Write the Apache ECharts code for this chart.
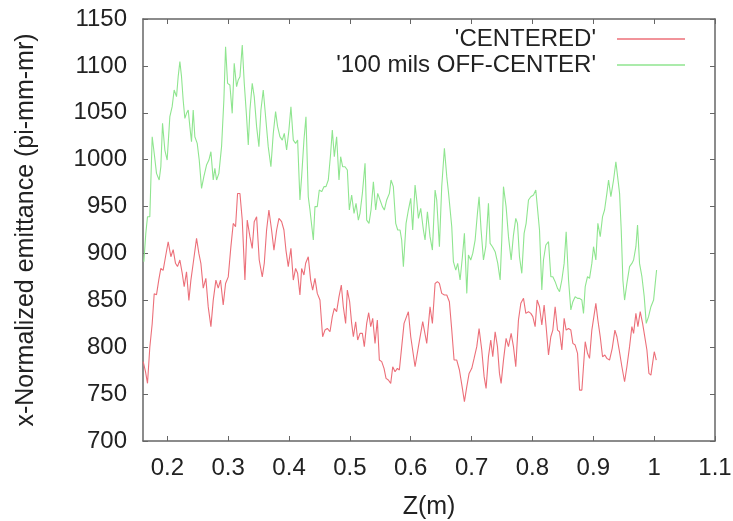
<!DOCTYPE html>
<html>
<head>
<meta charset="utf-8">
<script src="https://cdn.jsdelivr.net/npm/echarts@6/dist/echarts.min.js"></script>
<style>
html,body{margin:0;padding:0;background:#fff;}
#chart{width:733px;height:521px;}
</style>
</head>
<body>
<div id="chart"></div>
<script>
var seriesNames = ["'CENTERED'", "'100 mils OFF-CENTER'"];
var xTicks = [0.2, 0.3, 0.4, 0.5, 0.6, 0.7, 0.8, 0.9, 1.0, 1.1];
var yTicks = [700, 750, 800, 850, 900, 950, 1000, 1050, 1100, 1150];

var centeredPoints = [
[0.1603,784.6],[0.1641,774],[0.1674,761.5],[0.1712,800],[0.1751,825],[0.1784,857],[0.1822,856],[0.1860,872],[0.1893,884],[0.1931,882],
[0.1970,896.5],[0.2014,912.5],[0.2058,896.5],[0.2096,904],[0.2134,889.5],[0.2167,886],[0.2206,893],[0.2244,879],[0.2277,864.5],[0.2315,880.5],
[0.2354,850],[0.2387,871.6],[0.2425,889.5],[0.2480,916],[0.2518,900],[0.2551,889.5],[0.2590,863],[0.2633,873.4],[0.2672,843],[0.2716,822],
[0.2754,850],[0.2798,871.6],[0.2836,863],[0.2874,871.6],[0.2918,845],[0.2957,868],[0.3001,875],[0.3044,907],[0.3083,932],[0.3121,928.5],
[0.3154,964],[0.3193,964],[0.3231,935.6],[0.3275,871.6],[0.3313,935.6],[0.3357,917.9],[0.3395,905.4],[0.3428,933.9],[0.3467,939.2],[0.3510,893],
[0.3560,875],[0.3593,889.5],[0.3631,925],[0.3669,946.3],[0.3713,925],[0.3752,903.6],[0.3796,925],[0.3834,937.4],[0.3878,933.9],[0.3916,925],
[0.3949,903.6],[0.3987,885.9],[0.4031,905.4],[0.4070,871.6],[0.4108,884],[0.4141,878.8],[0.4179,855.7],[0.4207,884],[0.4245,877],[0.4273,889.5],
[0.4316,896.5],[0.4355,871.6],[0.4388,861],[0.4426,873.4],[0.4464,857.4],[0.4508,850.3],[0.4552,811.2],[0.4590,818.3],[0.4629,820],[0.4673,816.5],
[0.4711,832.6],[0.4744,841.4],[0.4782,837.9],[0.4821,853.9],[0.4859,866.3],[0.4892,843.2],[0.4930,825.4],[0.4958,861],[0.4996,848.5],[0.5029,825.4],
[0.5057,811.2],[0.5095,827.2],[0.5128,807.7],[0.5166,814.8],[0.5205,814.8],[0.5237,800.6],[0.5276,825.4],[0.5309,836.8],[0.5342,821.9],[0.5375,830.8],
[0.5413,804.1],[0.5451,829],[0.5484,786.3],[0.5523,784.6],[0.5561,777.5],[0.5594,766.8],[0.5632,765],[0.5671,761.5],[0.5704,779.2],[0.5742,773.9],
[0.5780,777.5],[0.5813,775.7],[0.5890,825.4],[0.5961,837.9],[0.6000,811.2],[0.6071,779.2],[0.6126,800.6],[0.6197,827.2],[0.6263,804.1],[0.6317,843.2],
[0.6356,825.4],[0.6400,868],[0.6438,869.9],[0.6471,868],[0.6509,857.4],[0.6553,855.7],[0.6592,855.7],[0.6635,848.5],[0.6674,818.3],[0.6712,786.3],
[0.6756,786.3],[0.6800,775.7],[0.6844,758],[0.6882,742],[0.6921,758],[0.6959,772.1],[0.7003,777.5],[0.7041,788.1],[0.7085,800.6],[0.7123,820],
[0.7167,797],[0.7206,768.6],[0.7238,756.1],[0.7277,789.9],[0.7315,807.7],[0.7348,789.9],[0.7387,816.5],[0.7425,800.6],[0.7458,772.1],[0.7485,761.5],
[0.7524,786.3],[0.7567,809.4],[0.7606,800.6],[0.7650,814.8],[0.7688,800.6],[0.7726,779.2],[0.7770,829],[0.7809,846.8],[0.7853,852.1],[0.7891,836.1],
[0.7935,837.9],[0.7973,836.1],[0.8006,832.6],[0.8044,821.9],[0.8077,850.3],[0.8116,843.2],[0.8154,823.7],[0.8192,845],[0.8225,821.9],[0.8264,791.7],
[0.8302,811.2],[0.8335,818.3],[0.8373,843.2],[0.8412,818.3],[0.8445,816.5],[0.8483,797],[0.8521,830.8],[0.8554,818.3],[0.8593,820],[0.8631,818.3],
[0.8664,804.1],[0.8702,802.3],[0.8741,793.5],[0.8774,754.3],[0.8812,754.3],[0.8839,754.3],[0.8867,805.9],[0.8905,793.5],[0.8938,788.1],[0.8976,818.3],
[0.9004,820],[0.9042,846.8],[0.9075,829],[0.9114,811.2],[0.9152,789.9],[0.9190,791.7],[0.9223,788.1],[0.9267,786.3],[0.9311,798.8],[0.9355,818.3],
[0.9388,811.2],[0.9426,797],[0.9470,779.2],[0.9514,763.2],[0.9552,779.2],[0.9596,800.6],[0.9634,821.9],[0.9662,814.8],[0.9700,836.1],[0.9733,821.9],
[0.9771,837.9],[0.9810,825.4],[0.9837,814.8],[0.9881,797],[0.9914,772.1],[0.9947,770.3],[0.9974,782.8],[1.0002,795.2],[1.0035,786.3]
];

var offCenterPoints = [
[0.1614,891.2],[0.1646,921.4],[0.1674,939.2],[0.1712,939.2],[0.1751,1024.5],[0.1784,1006.8],[0.1822,985.4],[0.1866,978.3],[0.1893,992.5],[0.1921,1038.7],
[0.1959,1010.3],[0.1997,999.6],[0.2041,1045.8],[0.2079,1056.5],[0.2112,1074.3],[0.2151,1067.2],[0.2178,1088.5],[0.2206,1104.5],[0.2233,1088.5],[0.2260,1063.6],
[0.2288,1044],[0.2315,1049.4],[0.2343,1053],[0.2370,1035.2],[0.2397,1019.2],[0.2425,1053],[0.2452,1024.5],[0.2491,1017.4],[0.2524,999.6],[0.2562,969.4],
[0.2600,981.9],[0.2644,994.3],[0.2683,999.6],[0.2716,1008.5],[0.2754,978.3],[0.2781,990.8],[0.2809,978.3],[0.2847,985.4],[0.2891,1013.9],[0.2929,1063.6],
[0.2957,1120.5],[0.2990,1081.4],[0.3028,1079.6],[0.3066,1049.4],[0.3099,1102.7],[0.3138,1077.8],[0.3165,1085],[0.3193,1088.5],[0.3231,1122.3],[0.3264,1081.4],
[0.3302,1045.8],[0.3330,1015.6],[0.3357,1053],[0.3395,1081.4],[0.3428,1067.2],[0.3467,1035.2],[0.3505,1013.9],[0.3538,1053],[0.3576,1074.3],[0.3615,1045.8],
[0.3658,1013.9],[0.3702,992.5],[0.3741,1028.1],[0.3779,1051.2],[0.3812,1035.2],[0.3850,1024.5],[0.3889,1020.9],[0.3922,1028.1],[0.3960,1010.3],[0.3998,1031.6],
[0.4031,1056.5],[0.4070,1020.9],[0.4108,1017.4],[0.4141,1020.9],[0.4179,957],[0.4207,981.9],[0.4245,1020.9],[0.4278,1045.8],[0.4316,960.5],[0.4344,946.3],
[0.4399,914.3],[0.4426,949.9],[0.4464,949.9],[0.4497,967.6],[0.4536,965.9],[0.4574,971.2],[0.4607,971.2],[0.4645,978.3],[0.4684,1006.8],[0.4711,1031.6],
[0.4744,1003.2],[0.4782,1024.5],[0.4821,978.3],[0.4848,1003.2],[0.4881,992.5],[0.4920,992.5],[0.4958,989],[0.4991,946.3],[0.5029,962.3],[0.5068,942.8],
[0.5101,953.4],[0.5139,935.6],[0.5166,942.8],[0.5205,964.1],[0.5249,996.1],[0.5276,935.6],[0.5314,932.1],[0.5347,946.3],[0.5386,976.5],[0.5424,946.3],
[0.5457,964.1],[0.5495,957],[0.5534,949.9],[0.5566,946.3],[0.5605,957],[0.5649,964.1],[0.5676,978.3],[0.5714,971.2],[0.5753,932.1],[0.5786,925],
[0.5824,925],[0.5851,914.3],[0.5879,885.9],[0.5923,932.1],[0.5961,946.3],[0.6000,958.7],[0.6032,925],[0.6071,973],[0.6098,957],[0.6126,937.4],
[0.6164,948.1],[0.6208,925],[0.6235,914.3],[0.6274,944.5],[0.6317,917.9],[0.6356,903.6],[0.6400,967.6],[0.6427,957],[0.6471,907.2],[0.6509,971.2],
[0.6553,1012.1],[0.6592,981.9],[0.6619,965.9],[0.6646,964.1],[0.6674,928.5],[0.6701,891.2],[0.6740,882.3],[0.6772,889.4],[0.6811,871.7],[0.6849,896.5],
[0.6882,921.4],[0.6921,857.4],[0.6948,898.3],[0.6986,893],[0.7019,900],[0.7058,914.3],[0.7096,942.8],[0.7123,960.5],[0.7156,925],[0.7195,893],
[0.7233,907.2],[0.7277,953.4],[0.7304,910.8],[0.7343,907.2],[0.7387,901.9],[0.7430,889.4],[0.7469,871.7],[0.7496,914.3],[0.7524,971.2],[0.7567,949.9],
[0.7606,917.9],[0.7650,893],[0.7688,919.6],[0.7726,937.4],[0.7754,932.1],[0.7787,896.5],[0.7825,878.8],[0.7863,921.4],[0.7896,932.1],[0.7935,957],
[0.7973,960.5],[0.8017,962.3],[0.8055,967.6],[0.8083,969.4],[0.8116,925],[0.8154,861],[0.8181,893],[0.8220,909],[0.8264,912.5],[0.8302,875.2],
[0.8335,875.2],[0.8373,869.9],[0.8412,862.8],[0.8445,859.2],[0.8483,871.7],[0.8521,889.4],[0.8554,923.2],[0.8593,871.7],[0.8631,839.7],[0.8664,848.5],
[0.8702,853.9],[0.8741,852.1],[0.8774,852.1],[0.8812,850.3],[0.8839,836.1],[0.8867,864.5],[0.8905,875.2],[0.8938,873.4],[0.8976,889.4],[0.9004,907.2],
[0.9042,893],[0.9075,932.1],[0.9114,917.9],[0.9152,939.2],[0.9185,946.3],[0.9223,964.1],[0.9251,978.3],[0.9289,960.5],[0.9333,978.3],[0.9371,997.8],
[0.9399,999.6],[0.9432,964.1],[0.9459,925],[0.9486,871.7],[0.9514,850.3],[0.9552,868.1],[0.9596,885.9],[0.9634,889.4],[0.9662,893],[0.9700,907.2],
[0.9727,930.3],[0.9760,889.4],[0.9799,875.2],[0.9837,853.9],[0.9870,825.4],[0.9908,832.6],[0.9947,843.2],[0.9991,850.3],[1.0018,868.1],[1.0040,882.3]
];

var FONT = '"Liberation Sans", Arial, sans-serif';
var AXIS_COLOR = '#666';
var TEXT_COLOR = '#222';
var RED = '#ec6f79';
var GREEN = '#8fe58f';

function fmtX(v) { return String(Math.round(v * 10) / 10); }
function fmtY(v) { return String(v); }

var chart = echarts.init(document.getElementById('chart'), null, {renderer: 'canvas'});

function xAxisCfg(pos, showLabel) {
  return {
    type: 'value', position: pos, min: 0.16, max: 1.1,
    name: showLabel ? 'Z(m)' : '', nameLocation: 'middle', nameGap: 54,
    nameTextStyle: {fontFamily: FONT, fontSize: 25, color: TEXT_COLOR},
    axisLine: {show: true, onZero: false, lineStyle: {color: AXIS_COLOR, width: 1.5}},
    axisTick: {show: true, inside: true, length: 5, customValues: xTicks, lineStyle: {color: AXIS_COLOR, width: 1}},
    axisLabel: {show: showLabel, customValues: xTicks, formatter: fmtX, fontFamily: FONT, fontSize: 24, color: TEXT_COLOR, margin: 15},
    splitLine: {show: false}
  };
}
function yAxisCfg(pos, showLabel) {
  return {
    type: 'value', position: pos, min: 700, max: 1150, interval: 50,
    name: showLabel ? 'x-Normalized emittance (pi-mm-mr)' : '', nameLocation: 'middle', nameGap: 104, nameRotate: 90,
    nameTextStyle: {fontFamily: FONT, fontSize: 25, color: TEXT_COLOR},
    axisLine: {show: true, onZero: false, lineStyle: {color: AXIS_COLOR, width: 1.5}},
    axisTick: {show: true, inside: true, length: 5, lineStyle: {color: AXIS_COLOR, width: 1}},
    axisLabel: {show: showLabel, formatter: fmtY, fontFamily: FONT, fontSize: 24, color: TEXT_COLOR, margin: 16},
    splitLine: {show: false}
  };
}

function legendCfg(name, top) {
  return {
    data: [{name: name, icon: 'rect'}],
    right: 48, top: top, orient: 'vertical', align: 'right', padding: 0,
    itemWidth: 68, itemHeight: 1.5,
    textStyle: {fontFamily: FONT, fontSize: 24, color: TEXT_COLOR, padding: [0, 16, 0, 0]},
    selectedMode: false
  };
}

chart.setOption({
  animation: false,
  backgroundColor: '#fff',
  grid: {left: 143, right: 18, top: 19, bottom: 80, containLabel: false, outerBoundsMode: 'none'},
  legend: [legendCfg(seriesNames[0], 27), legendCfg(seriesNames[1], 53)],
  xAxis: [xAxisCfg('bottom', true), xAxisCfg('top', false)],
  yAxis: [yAxisCfg('left', true), yAxisCfg('right', false)],
  series: [
    {name: seriesNames[0], type: 'line', data: centeredPoints, showSymbol: false, symbol: 'none',
     lineStyle: {color: RED, width: 1.1}, itemStyle: {color: RED}, xAxisIndex: 0, yAxisIndex: 0},
    {name: seriesNames[1], type: 'line', data: offCenterPoints, showSymbol: false, symbol: 'none',
     lineStyle: {color: GREEN, width: 1.1}, itemStyle: {color: GREEN}, xAxisIndex: 0, yAxisIndex: 0}
  ]
});
</script>
</body>
</html>
